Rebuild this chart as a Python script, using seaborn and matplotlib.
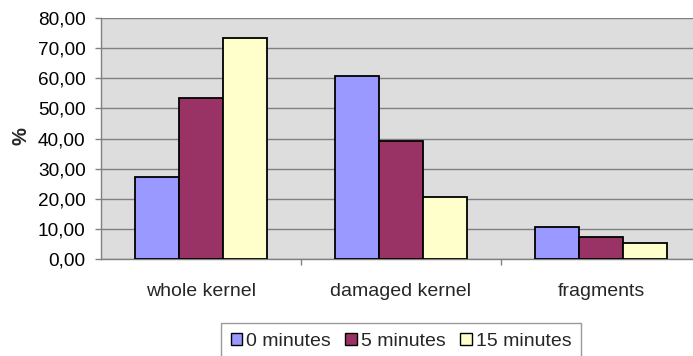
import matplotlib
matplotlib.use("Agg")
import matplotlib.pyplot as plt
from matplotlib.ticker import FuncFormatter, FixedLocator
from matplotlib.patches import Patch
import seaborn as sns
import pandas as pd

# Share of kernel classes after each treatment time
categories = ["whole kernel", "damaged kernel", "fragments"]
series = ["0 minutes", "5 minutes", "15 minutes"]
values_0 = [27.2, 60.9, 10.7]
values_5 = [53.5, 39.1, 7.3]
values_15 = [73.4, 20.7, 5.3]
colors = ["#9999FF", "#993366", "#FFFFCC"]
y_ticks = [0, 10, 20, 30, 40, 50, 60, 70, 80]

rows = []
for name, vals in zip(series, [values_0, values_5, values_15]):
    for cat, v in zip(categories, vals):
        rows.append({"category": cat, "time": name, "value": v})
df = pd.DataFrame(rows)

sns.set_style("white")
plt.rcParams["font.family"] = ["Liberation Sans", "DejaVu Sans"]

W, H = 693, 356
fig = plt.figure(figsize=(W / 100, H / 100), dpi=100)
ax = fig.add_axes([101 / W, 97 / H, 600 / W, 241 / H])
ax.set_facecolor("#DDDDDD")

sns.barplot(data=df, x="category", y="value", hue="time", order=categories,
            hue_order=series, palette=colors, width=0.66, edgecolor="black",
            linewidth=1.3, saturation=1, ax=ax, legend=False, zorder=3)

ax.set_xlim(-0.5, 2.5)
ax.set_ylim(0, 80)
ax.yaxis.set_major_locator(FixedLocator(y_ticks))
ax.yaxis.set_major_formatter(FuncFormatter(lambda v, p: f"{v:.2f}".replace(".", ",")))
ax.grid(axis="y", color="#808080", linewidth=1.0, zorder=1)
ax.grid(axis="x", visible=False)
ax.set_axisbelow(True)

for side in ["right", "top"]:
    ax.spines[side].set_visible(False)
for side in ["left", "bottom"]:
    ax.spines[side].set_color("#808080")
    ax.spines[side].set_linewidth(1.0)

ax.tick_params(axis="y", length=4, width=1, color="#808080", pad=7,
               labelsize=13.7, labelcolor="black", left=True)
ax.set_xticks(range(len(categories)))
ax.set_xticklabels(categories)
ax.set_xticks([0.5, 1.5], minor=True)
ax.tick_params(axis="x", which="major", length=0, pad=17, labelsize=14)
ax.tick_params(axis="x", which="minor", length=4, width=1, color="#808080", bottom=True)
ax.set_xlabel("")
ax.set_ylabel("")

fig.text(21 / W, 1 - 136 / H, "%", rotation=90, ha="center", va="center",
         fontsize=14.5, fontweight="bold")

handles = [Patch(facecolor=c, edgecolor="black", linewidth=1.0) for c in colors]
leg = fig.legend(handles, series, loc="upper left",
                 bbox_to_anchor=(221 / W, 1 - 323 / H), ncol=3,
                 fontsize=14, frameon=True, fancybox=False,
                 handlelength=0.6, handleheight=0.6, handletextpad=0.2,
                 columnspacing=0.74, borderpad=0.5, borderaxespad=0)
leg.get_frame().set_edgecolor("#808080")
leg.get_frame().set_linewidth(1.0)

fig.savefig("out.png", dpi=100)
